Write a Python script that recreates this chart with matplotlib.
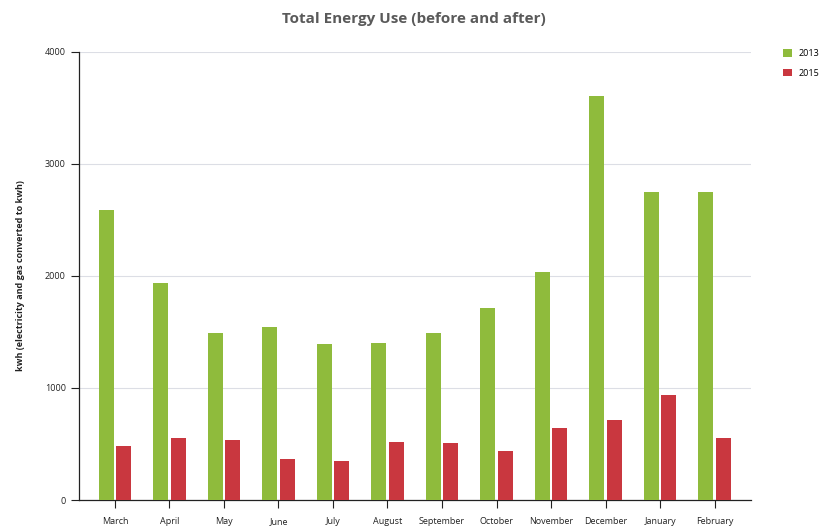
import matplotlib.pyplot as plt
import numpy as np

plt.rcParams['font.family'] = ['Open Sans', 'DejaVu Sans']

months = ["March", "April", "May", "June", "July", "August", "September",
          "October", "November", "December", "January", "February"]
use_2013 = [2590, 1940, 1490, 1545, 1395, 1400, 1490, 1715, 2035, 3610, 2750, 2750]
use_2015 = [485, 555, 535, 365, 350, 520, 510, 440, 645, 715, 940, 555]
years = ["2013", "2015"]

GREEN = "#8fbb3c"
RED = "#c9373f"

fig = plt.figure(figsize=(8.27, 5.30), dpi=100)
ax = fig.add_axes([0.0955, 0.0566, 0.812, 0.8453])

x = np.arange(len(months))
w = 0.28
gap = 0.02
ax.bar(x - w / 2 - gap, use_2013, width=w, color=GREEN, label=years[0], zorder=3)
ax.bar(x + w / 2 + gap, use_2015, width=w, color=RED, label=years[1], zorder=3)

ax.set_xlim(-0.66, len(months) - 0.34)
ax.set_ylim(0, 4000)
ax.set_yticks([0, 1000, 2000, 3000, 4000])
ax.set_xticks(x)
ax.set_xticklabels(months)
ax.tick_params(axis='both', labelsize=6.5, colors='#222222', length=6, width=0.8)
ax.tick_params(axis='x', pad=6)

ax.grid(axis='y', color='#dcdee5', linewidth=0.8, zorder=0)
for side in ('top', 'right'):
    ax.spines[side].set_visible(False)
for side in ('left', 'bottom'):
    ax.spines[side].set_color('#222222')
    ax.spines[side].set_linewidth(0.9)

ax.set_ylabel("kwh (electricity and gas converted to kwh)", fontsize=6.5,
              fontweight='bold', color='#222222', labelpad=14)
fig.suptitle("Total Energy Use (before and after)", x=0.5, y=0.978,
             fontsize=11, fontweight='bold', color='#5a5a5a')

ax.legend(loc='upper left', bbox_to_anchor=(1.037, 1.025), frameon=False,
          fontsize=6.5, handlelength=0.9, handleheight=0.9, labelspacing=1.2,
          handletextpad=0.8)

fig.savefig("out.png", dpi=100)
